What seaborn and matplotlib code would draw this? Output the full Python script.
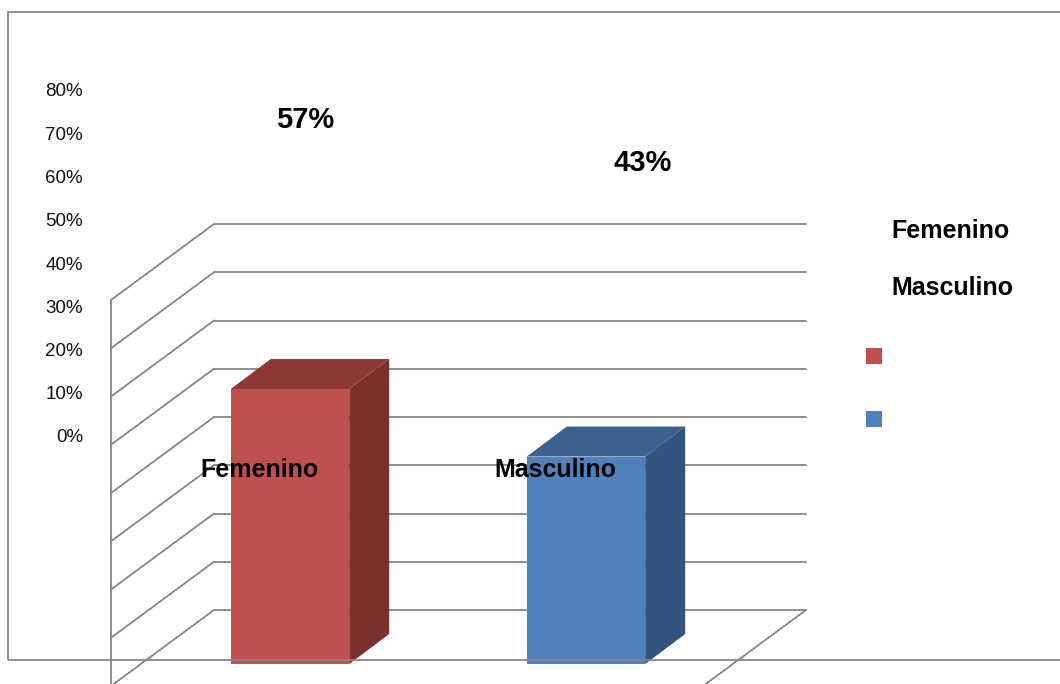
import matplotlib
matplotlib.use("Agg")
import matplotlib.pyplot as plt
from matplotlib.patches import Polygon, Rectangle
from matplotlib.lines import Line2D
from matplotlib.transforms import IdentityTransform
import pandas as pd
import seaborn as sns

# ---- data ----
categories = ["Femenino", "Masculino"]
values = [57, 43]  # percent
value_labels = [f"{v}%" for v in values]
tick_values = [0, 10, 20, 30, 40, 50, 60, 70, 80]
tick_labels = [f"{t}%" for t in tick_values]
front_colors = ["#C0504D", "#4F81BD"]
top_colors = ["#8E3836", "#3C618F"]
side_colors = ["#7B302E", "#32547E"]

W, H, DPI = 1060, 684, 100
GRID = "#868686"

sns.set_theme(style="white")
plt.rcParams["font.family"] = ["Liberation Sans", "DejaVu Sans"]

fig = plt.figure(figsize=(W / DPI, H / DPI), dpi=DPI)
fig.patch.set_facecolor("white")

# front plane of the bars, scaled in pixels per category / per percent
ax = fig.add_axes([0, 0, 1, 1])
px_per_cat, cat0_px = 296, 290
px_per_pct, base_px = 4.825, 664

df = pd.DataFrame({"sexo": categories, "pct": values})
sns.barplot(data=df, x="sexo", y="pct", hue="sexo", palette=front_colors,
            saturation=1, width=0.4, legend=False, linewidth=0, zorder=3, ax=ax)
ax.set_xlim(-cat0_px / px_per_cat, (W - cat0_px) / px_per_cat)
ax.set_ylim(-(H - base_px) / px_per_pct, base_px / px_per_pct)
ax.axis("off")

ident = IdentityTransform()


def to_px(x, y, off=(0, 0)):
    """Data point -> display pixels, shifted by an (x, y-down) depth offset."""
    X, Y = ax.transData.transform((x, y))
    return X + off[0], Y - off[1]


def seg(p, q, **kw):
    line = Line2D([p[0], q[0]], [p[1], q[1]], transform=ident,
                  color=GRID, lw=1.3, zorder=1, **kw)
    ax.add_line(line)


BACK = (72, -54)   # back wall offset
FRONT = (-31, 22)  # front edge of the floor / side wall
DEPTH = (40, -30)  # bar depth

x_lo, x_hi = -0.5, len(categories) - 0.5
for v in tick_values:
    seg(to_px(x_lo, v, BACK), to_px(x_hi, v, BACK))     # back wall gridline
    seg(to_px(x_lo, v, FRONT), to_px(x_lo, v, BACK))    # side wall gridline
seg(to_px(x_lo, tick_values[-1], FRONT), to_px(x_lo, -10, FRONT))  # axis line
seg(to_px(x_hi, 0, BACK), to_px(x_hi, 0, FRONT))        # floor right edge
seg(to_px(x_lo, 0, FRONT), to_px(x_hi, 0, FRONT))       # floor front edge

# top and side faces of the bars
for i, bar in enumerate(ax.patches):
    x0, w, h = bar.get_x(), bar.get_width(), bar.get_height()
    top = [to_px(x0, h), to_px(x0 + w, h), to_px(x0 + w, h, DEPTH), to_px(x0, h, DEPTH)]
    side = [to_px(x0 + w, 0), to_px(x0 + w, h), to_px(x0 + w, h, DEPTH), to_px(x0 + w, 0, DEPTH)]
    ax.add_patch(Polygon(top, closed=True, transform=ident, facecolor=top_colors[i],
                         edgecolor="none", zorder=3))
    ax.add_patch(Polygon(side, closed=True, transform=ident, facecolor=side_colors[i],
                         edgecolor="none", zorder=3))
    cx = to_px(x0 + w / 2, 0)[0] - 31
    fig.text(cx / W, 1 - 470 / H, categories[i], ha="center", va="center",
             fontsize=18, fontweight="bold", color="black", zorder=6)

# chart area border
ax.add_patch(Rectangle((8, H - 660), 1100, 648, transform=ident, fill=False,
                       edgecolor=GRID, lw=1.3, zorder=4))

# value labels
for lab, (px, py) in zip(value_labels, [(305, 120), (643, 163)]):
    fig.text(px / W, 1 - py / H, lab, ha="center", va="center",
             fontsize=21, fontweight="bold", color="black")

# legend entries
for i, (lab, ty, sy) in enumerate(zip(categories, [231, 288], [348, 411])):
    fig.text(891 / W, 1 - ty / H, lab, ha="left", va="center",
             fontsize=18, fontweight="bold", color="black")
    fig.patches.append(Rectangle((866 / W, 1 - (sy + 16) / H), 16 / W, 16 / H,
                                 transform=fig.transFigure, facecolor=front_colors[i],
                                 edgecolor="none"))

# percentage scale
ax2 = fig.add_axes([90 / W, (H - 436) / H, 1 / W, 346 / H])
ax2.set_ylim(0, 80)
ax2.set_yticks(tick_values, tick_labels)
ax2.set_xticks([])
ax2.tick_params(axis="y", length=0, pad=5, labelsize=13.5, labelcolor="#111111")
for s in ax2.spines.values():
    s.set_visible(False)
ax2.patch.set_alpha(0)

fig.savefig("out.png", dpi=DPI)
